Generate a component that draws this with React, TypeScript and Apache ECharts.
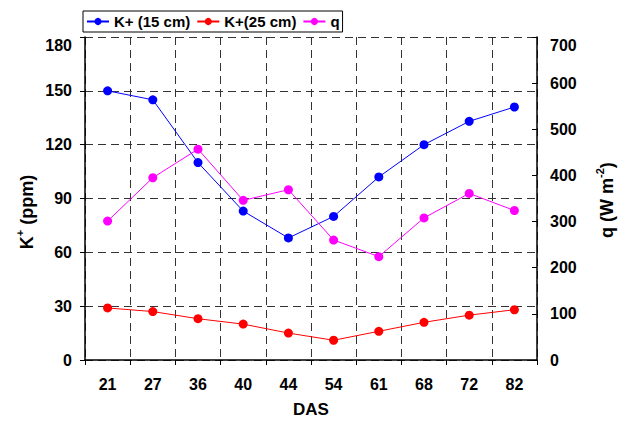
import React, { useEffect, useRef } from "react";
import * as echarts from "echarts";

const categories = ["21", "27", "36", "40", "44", "54", "61", "68", "72", "82"];
const k15 = [150, 145, 110, 83, 68, 80, 102, 120, 133, 141];
const k25 = [29, 27, 23, 20, 15, 11, 16, 21, 25, 28];
const q = [301, 395, 457, 346, 369, 260, 224, 308, 361, 324];
const seriesNames = ["K+ (15 cm)", "K+(25 cm)", "q"];

const FONT = "'Liberation Sans', Arial, sans-serif";

export default function App() {
  const ref = useRef<HTMLDivElement>(null);
  useEffect(() => {
    if (!ref.current) return;
    const chart = echarts.init(ref.current, undefined, { renderer: "svg" });
    const dash = { color: "#333", type: [8, 5] as any, width: 1 };
    const labelStyle = { color: "#000", fontWeight: "bold" as const, fontSize: 16, fontFamily: FONT };
    const mk = (name: string, data: number[], color: string, yAxisIndex: number) => ({
      name,
      type: "line",
      yAxisIndex,
      data,
      symbol: "circle",
      symbolSize: 9,
      lineStyle: { color, width: 1 },
      itemStyle: { color },
    });
    chart.setOption({
      animation: false,
      backgroundColor: "#fff",
      grid: { left: 85, right: 81, top: 37, bottom: 60, containLabel: false },
      legend: {
        left: 83,
        top: 11,
        orient: "horizontal",
        borderColor: "#000",
        borderWidth: 1,
        padding: [3, 3],
        itemGap: 6,
        itemWidth: 22,
        itemHeight: 9,
        textStyle: { color: "#000", fontWeight: "bold", fontSize: 15, fontFamily: FONT },
        data: seriesNames,
      },
      xAxis: {
        type: "category",
        data: categories,
        boundaryGap: true,
        axisLine: { lineStyle: { color: "#000", width: 1.5 } },
        axisTick: { show: true, length: 5, lineStyle: { color: "#000" } },
        axisLabel: { ...labelStyle, margin: 16 },
        splitLine: { show: true, lineStyle: dash },
        name: "DAS",
        nameLocation: "middle",
        nameGap: 41,
        nameTextStyle: { color: "#000", fontWeight: "bold", fontSize: 17, fontFamily: FONT },
      },
      yAxis: [
        {
          type: "value",
          min: 0,
          max: 180,
          interval: 30,
          position: "left",
          axisLine: { show: true, lineStyle: { color: "#000", width: 1.5 } },
          axisTick: { show: true, length: 5, lineStyle: { color: "#000" } },
          axisLabel: { ...labelStyle, margin: 13, verticalAlignMaxLabel: "top" },
          splitLine: { show: true, lineStyle: dash },
        },
        {
          type: "value",
          min: 0,
          max: 700,
          interval: 100,
          position: "right",
          axisLine: { show: true, lineStyle: { color: "#000", width: 1.5 } },
          axisTick: { show: true, inside: true, length: 5, lineStyle: { color: "#000" } },
          axisLabel: { ...labelStyle, margin: 13, verticalAlignMaxLabel: "top" },
          splitLine: { show: false },
        },
      ],
      graphic: [
        {
          type: "text",
          x: 25,
          y: 212,
          rotation: Math.PI / 2,
          style: {
            text: "{a|K}{s|+}{a| (ppm)}",
            align: "center",
            verticalAlign: "middle",
            rich: {
              a: { fontSize: 18, fontWeight: "bold", fontFamily: FONT, fill: "#000", lineHeight: 21, verticalAlign: "bottom" },
              s: { fontSize: 11, fontWeight: "bold", fontFamily: FONT, fill: "#000", lineHeight: 11, verticalAlign: "top" },
            },
          },
        },
        {
          type: "text",
          x: 605,
          y: 200,
          rotation: Math.PI / 2,
          style: {
            text: "{a|q (W m}{s|-2}{a|)}",
            align: "center",
            verticalAlign: "middle",
            rich: {
              a: { fontSize: 18, fontWeight: "bold", fontFamily: FONT, fill: "#000", lineHeight: 21, verticalAlign: "bottom" },
              s: { fontSize: 11, fontWeight: "bold", fontFamily: FONT, fill: "#000", lineHeight: 11, verticalAlign: "top" },
            },
          },
        },
      ],
      series: [
        mk(seriesNames[0], k15, "#0000FF", 0),
        mk(seriesNames[1], k25, "#FF0000", 0),
        mk(seriesNames[2], q, "#FF00FF", 1),
      ],
    });
    return () => chart.dispose();
  }, []);
  return (
    <div
      ref={ref}
      style={{ position: "absolute", left: 0, top: 0, width: 618, height: 423 }}
    />
  );
}
